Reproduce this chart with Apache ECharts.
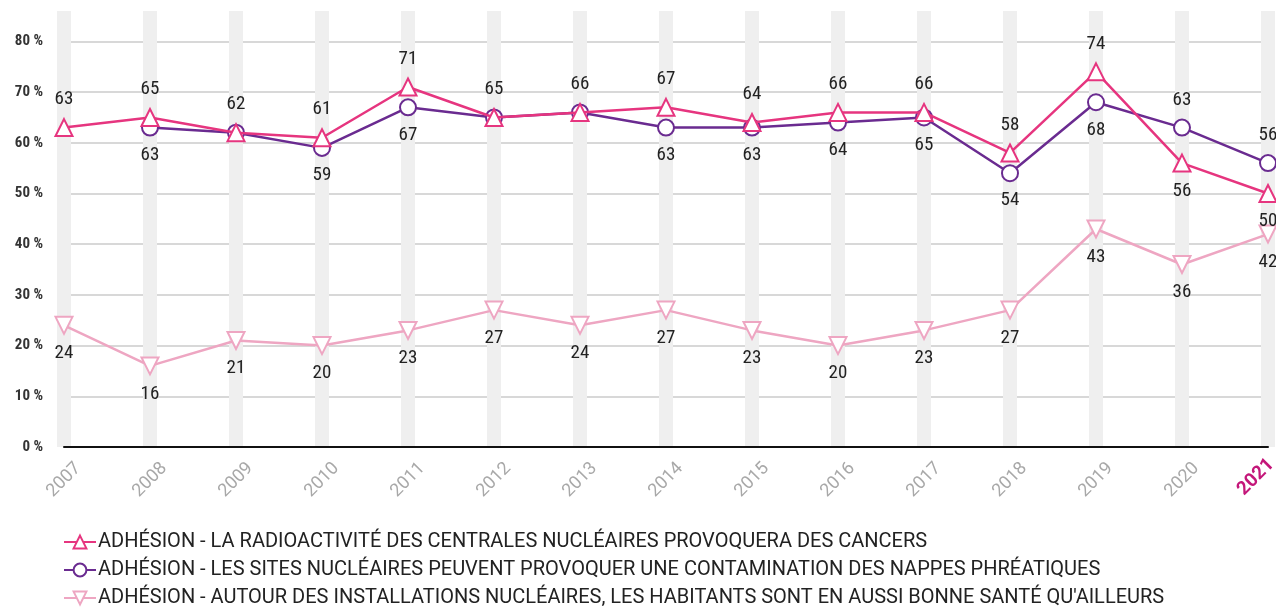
<!DOCTYPE html>
<html>
<head>
<meta charset="utf-8">
<script src="https://cdn.jsdelivr.net/npm/echarts@6/dist/echarts.min.js"></script>
<style>
  html, body { margin: 0; padding: 0; background: #fff; }
  #chart { width: 1276px; height: 610px; }
</style>
</head>
<body>
<div id="chart"></div>
<script>
// années
var years = ['2007', '2008', '2009', '2010', '2011', '2012', '2013', '2014', '2015', '2016', '2017', '2018', '2019', '2020', '2021']

var nameCancers = 'ADHÉSION - LA RADIOACTIVITÉ DES CENTRALES NUCLÉAIRES PROVOQUERA DES CANCERS'
var nameNappes = 'ADHÉSION - LES SITES NUCLÉAIRES PEUVENT PROVOQUER UNE CONTAMINATION DES NAPPES PHRÉATIQUES'
var nameSante = "ADHÉSION - AUTOUR DES INSTALLATIONS NUCLÉAIRES, LES HABITANTS SONT EN AUSSI BONNE SANTÉ QU'AILLEURS"

var cancers = [63, 65, 62, 61, 71, 65, 66, 67, 64, 66, 66, 58, 74, 56, 50]
var nappes = [null, 63, 62, 59, 67, 65, 66, 63, 63, 64, 65, 54, 68, 63, 56]
var sante = [24, 16, 21, 20, 23, 27, 24, 27, 23, 20, 23, 27, 43, 36, 42]

var yTicks = [0, 10, 20, 30, 40, 50, 60, 70, 80]

var condensed = "'Roboto Condensed', 'Liberation Sans Narrow', 'DejaVu Sans Condensed', sans-serif"

var chart = echarts.init(document.getElementById('chart'))

// étiquettes : au-dessus ou en dessous, certaines masquées (chevauchement)
function withLabels (values, below, hidden) {
  return values.map(function (v, i) {
    if (v === null) return v
    return {
      value: v,
      label: {
        show: hidden.indexOf(i) < 0,
        position: below.indexOf(i) >= 0 ? 'bottom' : 'top'
      }
    }
  })
}

var labelStyle = {
  show: true,
  distance: 9,
  fontFamily: condensed,
  fontSize: 19,
  color: '#222'
}

// une légende par ligne (sinon elle passe sur deux colonnes)
function legendRow (name, top) {
  return {
    orient: 'vertical',
    left: 63,
    top: top,
    padding: 0,
    itemWidth: 32,
    itemHeight: 16,
    textStyle: { fontFamily: 'Roboto, sans-serif', fontSize: 20, color: '#222', padding: [0, 0, 0, -3] },
    data: [name]
  }
}

var opt = {
  animation: false,
  grid: { left: 64, right: 8, top: 11, bottom: 163, outerBoundsMode: 'none' },
  legend: [
    legendRow(nameCancers, 532),
    legendRow(nameNappes, 560),
    legendRow(nameSante, 588)
  ],
  xAxis: {
    type: 'category',
    data: years,
    boundaryGap: false,
    axisLine: { lineStyle: { color: '#111', width: 2 } },
    axisTick: { show: false },
    splitLine: { show: true, lineStyle: { color: '#efefef', width: 14 } },
    axisLabel: {
      rotate: 45,
      margin: 33,
      align: 'center',
      verticalAlign: 'middle',
      fontFamily: 'Roboto, sans-serif',
      fontSize: 18,
      color: '#a8a8a8',
      formatter: function (v) { return v === '2021' ? '{hl|' + v + '}' : v },
      // 2021 décalé pour rester dans le cadre
      rich: { hl: { color: '#c4177a', fontWeight: 'bold', fontSize: 19, fontFamily: 'Roboto, sans-serif', padding: [0, 13, 21, 0] } }
    }
  },
  yAxis: {
    type: 'value',
    min: 0,
    max: 86,
    interval: 10,
    axisLine: { show: false },
    axisTick: { show: false },
    axisLabel: {
      showMaxLabel: false,
      margin: 21,
      fontFamily: condensed,
      fontWeight: 'bold',
      fontSize: 15,
      color: '#333',
      formatter: function (v) { return yTicks.indexOf(v) >= 0 ? v + ' %' : '' }
    },
    splitLine: { showMaxLine: false, lineStyle: { color: '#d8d8d8', width: 2 } }
  },
  series: [
    {
      name: nameSante,
      type: 'line',
      data: withLabels(sante, [0, 1, 2, 3, 4, 5, 6, 7, 8, 9, 10, 11, 12, 13, 14], []),
      symbol: 'triangle',
      symbolRotate: 180,
      symbolSize: 17,
      showAllSymbol: true,
      itemStyle: { color: '#fff', borderColor: '#eea6c2', borderWidth: 2 },
      lineStyle: { color: '#eea6c2', width: 2.5 },
      label: labelStyle,
      z: 2
    },
    {
      name: nameNappes,
      type: 'line',
      data: withLabels(nappes, [1, 3, 4, 7, 8, 9, 10, 11, 12], [2, 5, 6]),
      symbol: 'circle',
      symbolSize: 16,
      showAllSymbol: true,
      itemStyle: { color: '#fff', borderColor: '#6a2b90', borderWidth: 2 },
      lineStyle: { color: '#6a2b90', width: 2.5 },
      label: labelStyle,
      z: 3
    },
    {
      name: nameCancers,
      type: 'line',
      data: withLabels(cancers, [13, 14], []),
      symbol: 'triangle',
      symbolSize: 17,
      showAllSymbol: true,
      itemStyle: { color: '#fff', borderColor: '#e6357f', borderWidth: 2 },
      lineStyle: { color: '#e6357f', width: 2.5 },
      label: labelStyle,
      z: 4
    }
  ]
}

chart.setOption(opt)
</script>
</body>
</html>
